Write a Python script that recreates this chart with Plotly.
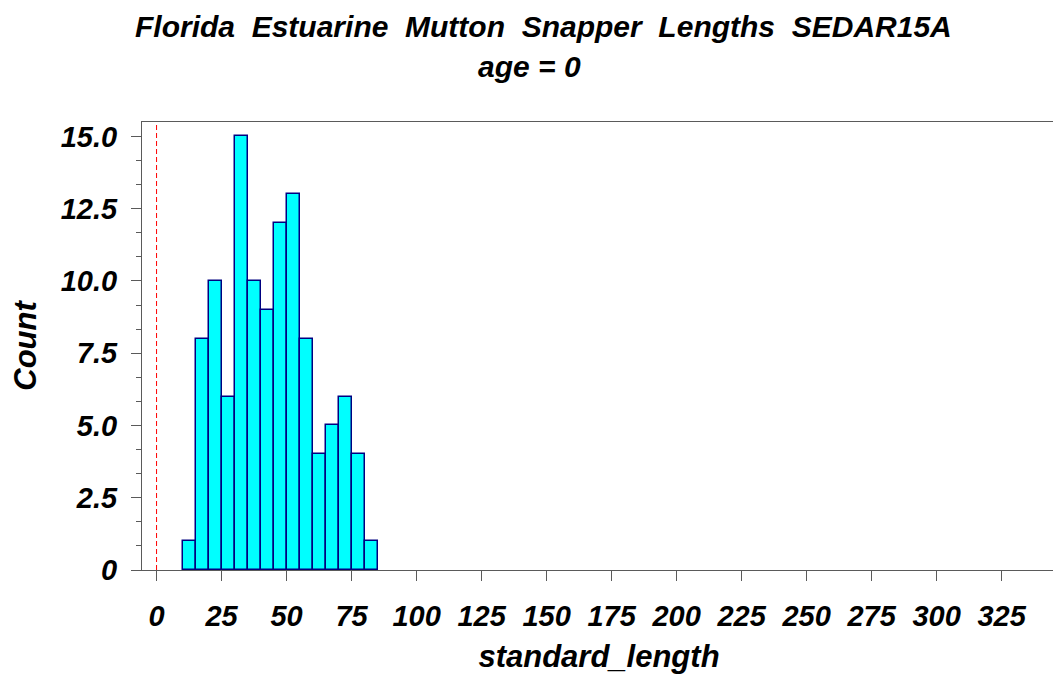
import plotly.graph_objects as go

# ---- data ----
bin_left = [10, 15, 20, 25, 30, 35, 40, 45, 50, 55, 60, 65, 70, 75, 80]
counts = [1, 8, 10, 6, 15, 10, 9, 12, 13, 8, 4, 5, 6, 4, 1]
bin_width = 5
x_ticks = [0, 25, 50, 75, 100, 125, 150, 175, 200, 225, 250, 275, 300, 325]
y_ticks = [0, 2.5, 5.0, 7.5, 10.0, 12.5, 15.0]
y_tick_text = ["0", "2.5", "5.0", "7.5", "10.0", "12.5", "15.0"]
ref_line_x = 0

FONT = "Liberation Sans, Arial, sans-serif"
AXC = "#5a5a5a"

centers = [b + bin_width / 2 for b in bin_left]

fig = go.Figure()
fig.add_trace(go.Bar(
    x=centers, y=counts, width=bin_width,
    marker=dict(color="#00FFFF", line=dict(color="#000080", width=1.5)),
    showlegend=False,
))

fig.add_shape(type="line", xref="x", yref="paper", x0=ref_line_x, x1=ref_line_x,
              y0=0, y1=1, line=dict(color="red", width=1, dash="5px,3px"))

# page body adds an 8px offset, so figure is 1053x690
fig.update_layout(
    width=1053, height=690,
    margin=dict(l=134, r=5, t=114, b=128, autoexpand=False),
    paper_bgcolor="white", plot_bgcolor="white",
    font=dict(family=FONT, size=30, color="black", style="italic", weight="bold"),
    bargap=0,
)

fig.update_xaxes(
    range=[-5.6, 345.9], tickvals=x_ticks, ticktext=[str(v) for v in x_ticks],
    showgrid=False, zeroline=False, automargin=False,
    showline=True, linecolor=AXC, linewidth=1, mirror=True,
    ticks="outside", ticklen=10, tickcolor=AXC, tickwidth=1,
    ticklabelstandoff=10,
    tickfont=dict(family=FONT, size=29, style="italic", weight="bold"),
    title=dict(text="standard_length", font=dict(family=FONT, size=31, style="italic", weight="bold"), standoff=14),
)
fig.update_yaxes(
    range=[0, 15.5], tickvals=y_ticks, ticktext=y_tick_text,
    showgrid=False, zeroline=False, automargin=False,
    showline=True, linecolor=AXC, linewidth=1, mirror=True,
    ticks="outside", ticklen=10, tickcolor=AXC, tickwidth=1,
    ticklabelstandoff=8,
    minor=dict(dtick=2.5 / 3, tick0=0, ticks="outside", ticklen=5, tickcolor=AXC),
    tickfont=dict(family=FONT, size=29, style="italic", weight="bold"),
    title=dict(text="Count", font=dict(family=FONT, size=31, style="italic", weight="bold"), standoff=14),
)

fig.add_annotation(text="Florida\u00a0 Estuarine\u00a0 Mutton\u00a0 Snapper\u00a0 Lengths\u00a0 SEDAR15A",
                   xref="paper", yref="paper", x=(543 - 142) / 914, y=(570 - 26) / 448,
                   xanchor="center", yanchor="middle", showarrow=False,
                   font=dict(family=FONT, size=30, style="italic", weight="bold"))
fig.add_annotation(text="age = 0",
                   xref="paper", yref="paper", x=(529 - 142) / 914, y=(570 - 66) / 448,
                   xanchor="center", yanchor="middle", showarrow=False,
                   font=dict(family=FONT, size=30, style="italic", weight="bold"))

fig.write_html("out.html")
